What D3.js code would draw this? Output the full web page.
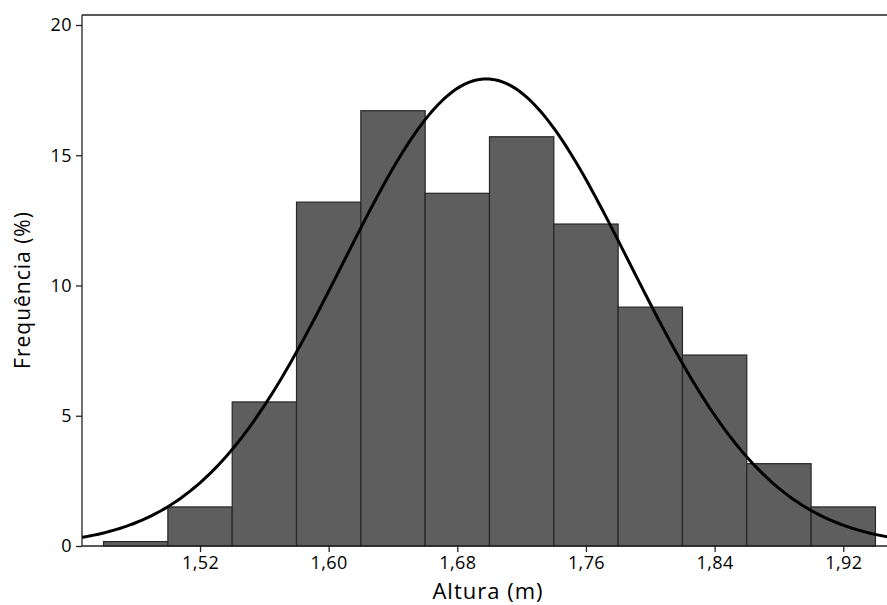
<!DOCTYPE html>
<html>
<head>
<meta charset="utf-8">
<script src="https://cdn.jsdelivr.net/npm/d3@7"></script>
<style>
  body { margin: 0; background: #fff; }
  text { font-family: "Open Sans", "Noto Sans", sans-serif; fill: #000; }
</style>
</head>
<body>
<script>
// histogram bins (lower edge, upper edge) and frequency in %
var binStart = [1.46, 1.50, 1.54, 1.58, 1.62, 1.66, 1.70, 1.74, 1.78, 1.82, 1.86, 1.90];
var binEnd   = [1.50, 1.54, 1.58, 1.62, 1.66, 1.70, 1.74, 1.78, 1.82, 1.86, 1.90, 1.94];
var freq     = [0.17, 1.50, 5.53, 13.2, 16.71, 13.54, 15.71, 12.36, 9.17, 7.33, 3.16, 1.50];
// fitted normal curve parameters
var fitMean = 1.698, fitSd = 0.089, binWidth = 0.04;
var xTicks = [1.52, 1.60, 1.68, 1.76, 1.84, 1.92];
var yTicks = [0, 5, 10, 15, 20];

var width = 887, height = 605;
var mLeft = 82, mTop = 15, mRight = 887, mBottom = 546;

var svg = d3.select("body").append("svg")
  .attr("width", width)
  .attr("height", height);

var x = d3.scaleLinear().domain([1.4466, 1.9472]).range([mLeft, mRight]);
var y = d3.scaleLinear().domain([0, 20]).range([mBottom, 25]);

svg.append("clipPath").attr("id", "plot")
  .append("rect").attr("x", mLeft).attr("y", mTop)
  .attr("width", mRight - mLeft).attr("height", mBottom - mTop);

// bars
svg.selectAll("rect.bar")
  .data(freq).enter().append("rect")
  .attr("class", "bar")
  .attr("x", function(d, i) { return x(binStart[i]); })
  .attr("width", function(d, i) { return x(binEnd[i]) - x(binStart[i]); })
  .attr("y", function(d) { return y(d); })
  .attr("height", function(d) { return y(0) - y(d); })
  .attr("fill", "#5e5e5e")
  .attr("stroke", "#262626")
  .attr("stroke-width", 1.2);

// normal fit, scaled to % per bin
var xs = d3.range(1.44, 1.955, 0.002);
var line = d3.line()
  .x(function(d) { return x(d); })
  .y(function(d) {
    var z = (d - fitMean) / fitSd;
    return y(100 * binWidth * Math.exp(-0.5 * z * z) / (fitSd * Math.sqrt(2 * Math.PI)));
  });
svg.append("path")
  .datum(xs)
  .attr("clip-path", "url(#plot)")
  .attr("d", line)
  .attr("fill", "none")
  .attr("stroke", "#000")
  .attr("stroke-width", 3);

// frame: top line
svg.append("line")
  .attr("x1", mLeft).attr("x2", mRight).attr("y1", mTop).attr("y2", mTop)
  .attr("stroke", "#222").attr("stroke-width", 1.5);

// axes
var yAxis = svg.append("g")
  .attr("transform", "translate(" + mLeft + ",0)")
  .call(d3.axisLeft(y).tickValues(yTicks).tickSize(6).tickPadding(4).tickFormat(d3.format("d")));
yAxis.select(".domain").attr("d", "M0," + mTop + "V" + mBottom);

var fmt = function(d) { return d.toFixed(2).replace(".", ","); };
var xAxis = svg.append("g")
  .attr("transform", "translate(0," + mBottom + ")")
  .call(d3.axisBottom(x).tickValues(xTicks).tickSize(6).tickPadding(4).tickFormat(fmt));
xAxis.select(".domain").attr("d", "M" + mLeft + ",0H" + mRight);

svg.selectAll("g").attr("font-size", 18).attr("font-family", null);
svg.selectAll(".tick text").attr("fill", "#000").attr("letter-spacing", 0.4);
svg.selectAll(".domain, .tick line").attr("stroke", "#222").attr("stroke-width", 1.3);

// axis titles
svg.append("text")
  .attr("x", 488).attr("y", 599)
  .attr("text-anchor", "middle")
  .attr("font-size", 22)
  .attr("letter-spacing", 1)
  .text("Altura (m)");
svg.append("text")
  .attr("transform", "translate(30,290) rotate(-90)")
  .attr("text-anchor", "middle")
  .attr("font-size", 21)
  .attr("letter-spacing", 1)
  .text("Frequência (%)");
</script>
</body>
</html>
